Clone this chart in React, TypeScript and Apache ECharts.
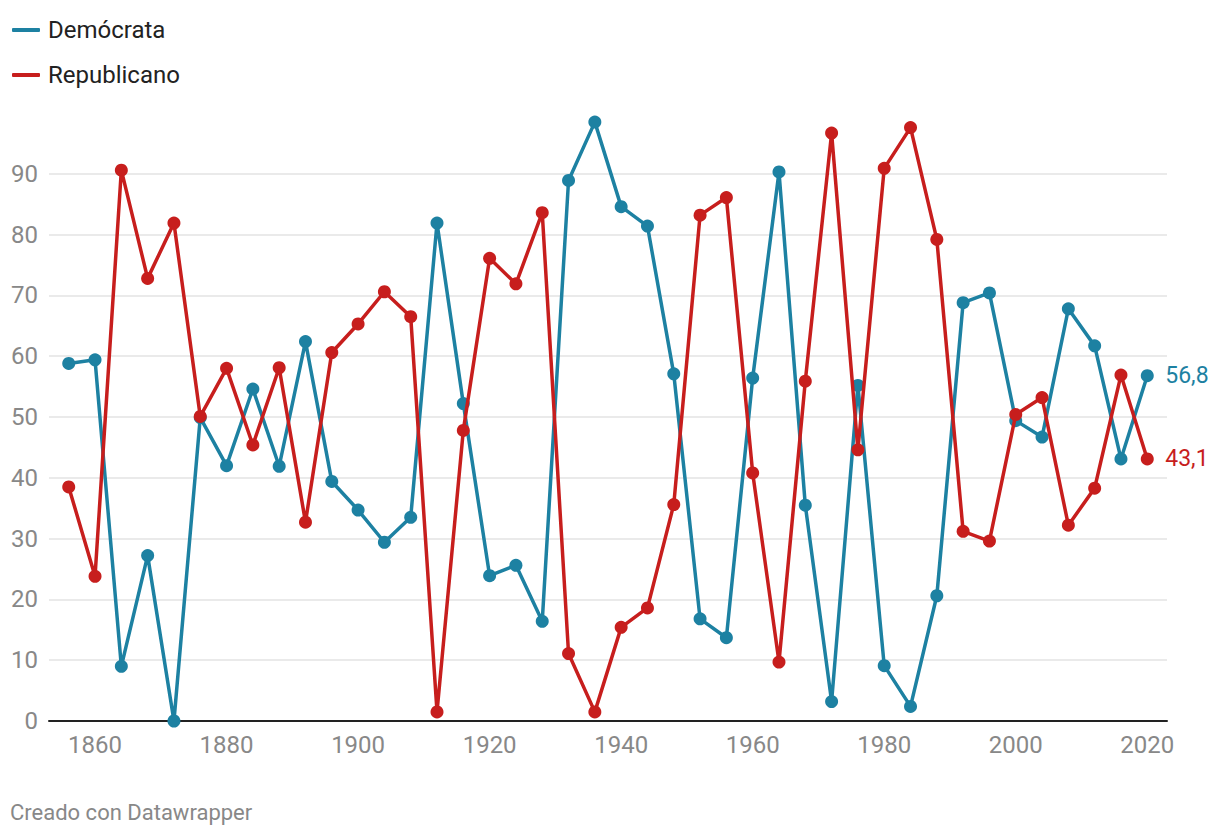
import React, { useEffect, useRef } from "react";
import * as echarts from "echarts";

const years = [
  1856, 1860, 1864, 1868, 1872, 1876, 1880, 1884, 1888, 1892, 1896, 1900, 1904, 1908,
  1912, 1916, 1920, 1924, 1928, 1932, 1936, 1940, 1944, 1948, 1952, 1956, 1960, 1964,
  1968, 1972, 1976, 1980, 1984, 1988, 1992, 1996, 2000, 2004, 2008, 2012, 2016, 2020,
];

const democrata = [
  58.8, 59.4, 9.0, 27.2, 0, 49.9, 42.0, 54.6, 41.9, 62.4, 39.4, 34.7, 29.4, 33.5,
  81.9, 52.2, 23.9, 25.6, 16.4, 88.9, 98.5, 84.6, 81.4, 57.1, 16.8, 13.7, 56.4, 90.3,
  35.5, 3.2, 55.2, 9.1, 2.4, 20.6, 68.8, 70.4, 49.4, 46.7, 67.8, 61.7, 43.1, 56.8,
];

const republicano = [
  38.5, 23.8, 90.6, 72.8, 81.9, 50.1, 58.0, 45.4, 58.1, 32.7, 60.6, 65.3, 70.6, 66.5,
  1.5, 47.8, 76.1, 71.9, 83.6, 11.1, 1.5, 15.4, 18.6, 35.6, 83.2, 86.1, 40.8, 9.7,
  55.9, 96.7, 44.6, 90.9, 97.6, 79.2, 31.2, 29.6, 50.4, 53.2, 32.2, 38.3, 56.9, 43.1,
];

const xTickLabels = [1860, 1880, 1900, 1920, 1940, 1960, 1980, 2000, 2020];

const BLUE = "#1d81a2";
const RED = "#c71e1d";
const FONT = "Roboto, 'Noto Sans', sans-serif";

export default function App() {
  const ref = useRef<HTMLDivElement>(null);

  useEffect(() => {
    if (!ref.current) return;
    const chart = echarts.init(ref.current, null, { renderer: "svg" });
    const fmt = (p: any) => {
      const v = Array.isArray(p.value) ? p.value[1] : p.value;
      return Number(v).toFixed(1).replace(".", ",");
    };
    const gridColors = [
      "#e3e3e3", "#e3e3e3", "#e3e3e3", "#e3e3e3", "#e3e3e3",
      "#e3e3e3", "#e3e3e3", "#e3e3e3", "#e3e3e3", "#e3e3e3", "rgba(0,0,0,0)",
    ];
    chart.setOption({
      animation: false,
      backgroundColor: "#ffffff",
      textStyle: { fontFamily: FONT },
      legend: {
        orient: "vertical",
        left: 12,
        top: 16,
        padding: 0,
        itemWidth: 28,
        itemHeight: 4,
        itemGap: 17,
        icon: "roundRect",
        textStyle: { fontFamily: FONT, fontSize: 24, color: "#222222", lineHeight: 28, padding: [0, 0, 0, 3] },
        data: ["Demócrata", "Republicano"],
      },
      graphic: [
        {
          type: "text",
          left: 10,
          top: 801,
          style: { text: "Creado con Datawrapper", fill: "#888888", fontSize: 22, fontFamily: FONT },
        },
      ],
      grid: { left: 49, right: 53, top: 113, bottom: 117, containLabel: false },
      xAxis: {
        type: "value",
        min: 1853,
        max: 2023,
        axisLine: { show: true, lineStyle: { color: "#222222", width: 2 } },
        axisTick: { show: false },
        splitLine: { show: false },
        axisLabel: {
          customValues: xTickLabels,
          color: "#888888",
          fontSize: 24,
          fontFamily: FONT,
          margin: 12,
          formatter: (v: number) => String(v),
        },
      },
      yAxis: {
        type: "value",
        min: 0,
        max: 100,
        interval: 10,
        axisLine: { show: false },
        axisTick: { show: false },
        splitLine: { show: true, lineStyle: { color: gridColors, width: 1.5 } },
        axisLabel: {
          color: "#888888",
          fontSize: 24,
          fontFamily: FONT,
          margin: 11,
          formatter: (v: number) => (v >= 100 ? "" : String(v)),
        },
      },
      series: [
        {
          name: "Demócrata",
          type: "line",
          data: years.map((y, i) => [y, democrata[i]]),
          color: BLUE,
          symbol: "circle",
          symbolSize: 13,
          showSymbol: true,
          lineStyle: { width: 3.5, color: BLUE },
          itemStyle: { color: BLUE },
          endLabel: {
            show: true,
            formatter: fmt,
            color: BLUE,
            fontSize: 23,
            fontFamily: FONT,
            distance: 18,
          },
          z: 2,
        },
        {
          name: "Republicano",
          type: "line",
          data: years.map((y, i) => [y, republicano[i]]),
          color: RED,
          symbol: "circle",
          symbolSize: 13,
          showSymbol: true,
          lineStyle: { width: 3.5, color: RED },
          itemStyle: { color: RED },
          endLabel: {
            show: true,
            formatter: fmt,
            color: RED,
            fontSize: 23,
            fontFamily: FONT,
            distance: 18,
          },
          z: 3,
        },
      ],
    });
    return () => chart.dispose();
  }, []);

  return (
    <div
      ref={ref}
      style={{ position: "fixed", left: 0, top: 0, width: 1220, height: 838, background: "#fff" }}
    />
  );
}
